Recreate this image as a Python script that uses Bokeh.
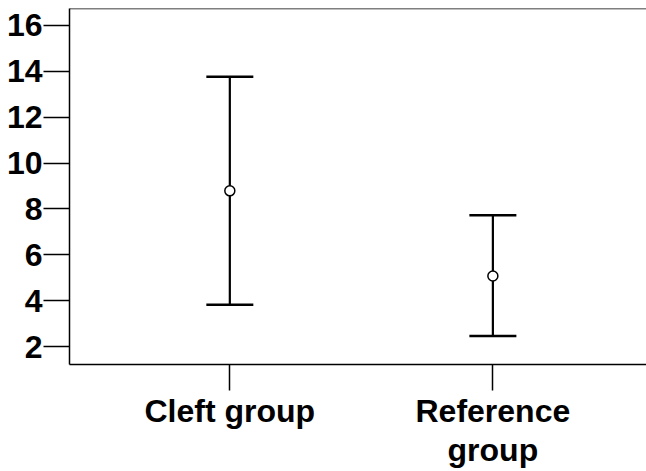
from bokeh.plotting import figure
from bokeh.models import Range1d, FixedTicker, Span
from bokeh.embed import file_html
from bokeh.resources import INLINE

groups = ["Cleft group", "Reference\ngroup"]
xpos = [1, 2]
means = [8.79, 5.08]
upper = [13.76, 7.73]
lower = [3.82, 2.46]
yticks = [2, 4, 6, 8, 10, 12, 14, 16]

FONT = "Liberation Sans"

p = figure(width=646, height=471, output_backend="svg", toolbar_location=None,
           x_range=Range1d(0.3905, 2.584), y_range=Range1d(1.22, 16.74),
           min_border_left=69, min_border_right=0, min_border_top=8, min_border_bottom=105)
p.grid.visible = False
p.outline_line_color = None
p.background_fill_color = "white"
p.border_fill_color = "white"

# error bars
p.segment(x0=xpos, y0=lower, x1=xpos, y1=upper, line_color="black", line_width=2.2)
p.dash(x=xpos, y=upper, size=47, angle=0, line_color="black", line_width=2.5)
p.dash(x=xpos, y=lower, size=47, angle=0, line_color="black", line_width=2.5)
p.scatter(x=xpos, y=means, marker="circle", size=10, fill_color="white",
          line_color="black", line_width=1.5)

# top border line
p.add_layout(Span(location=16.74, dimension="width", line_color="black", line_width=1.5))

# axes
for ax in (p.xaxis[0], p.yaxis[0]):
    ax.axis_line_color = "black"
    ax.axis_line_width = 1.5
    ax.major_tick_line_color = "black"
    ax.major_tick_line_width = 1.5
    ax.minor_tick_line_color = None
    ax.major_tick_in = 0
    ax.major_label_text_font = FONT
    ax.major_label_text_font_style = "bold"
    ax.major_label_text_font_size = "32px"
    ax.major_label_text_color = "black"

p.yaxis.ticker = FixedTicker(ticks=yticks)
p.yaxis.major_tick_out = 26
p.yaxis.major_label_standoff = 1

p.xaxis.ticker = FixedTicker(ticks=xpos)
p.xaxis.major_label_overrides = {x: g for x, g in zip(xpos, groups)}
p.xaxis.major_tick_out = 26
p.xaxis.major_label_standoff = 2
p.xaxis.major_label_text_line_height = 1.1

open("out.html", "w").write(file_html(p, INLINE))
